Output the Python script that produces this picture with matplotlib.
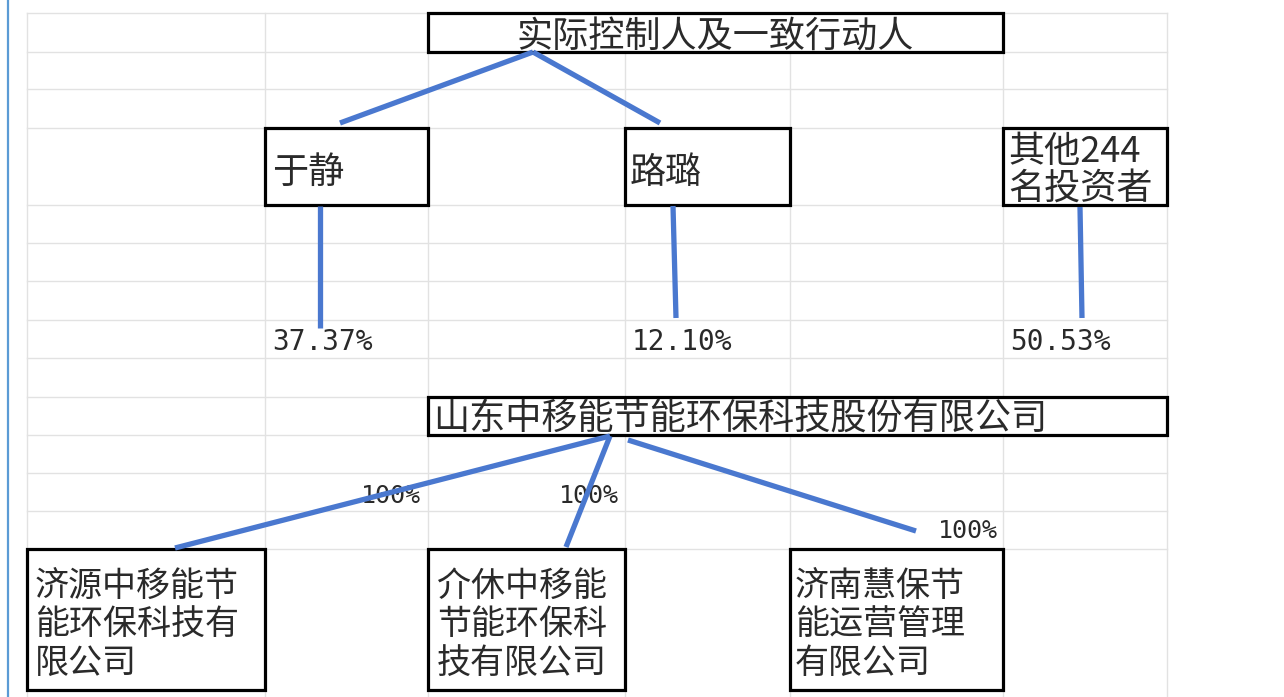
import matplotlib
matplotlib.use('Agg')
import matplotlib.pyplot as plt
from matplotlib.patches import Rectangle

# ---------------- data ----------------
top_label = "实际控制人及一致行动人"
holder_names = ["于静", "路璐", "其他244\n名投资者"]
holder_pcts = ["37.37%", "12.10%", "50.53%"]
company_label = "山东中移能节能环保科技股份有限公司"
sub_names = ["济源中移能节\n能环保科技有\n限公司",
             "介休中移能\n节能环保科\n技有限公司",
             "济南慧保节\n能运营管理\n有限公司"]
sub_pcts = ["100%", "100%", "100%"]

# ---------------- layout (pixel coordinates) ----------------
W, H = 1284, 697
col_x = [27, 265, 428, 625, 790, 1003, 1167]
row_y = [13, 52, 89, 128, 205, 243, 281, 320, 358, 397, 435, 473, 511, 549]

top_box = (428, 13, 1003, 52)
holder_boxes = [(265, 128, 428, 205), (625, 128, 790, 205), (1003, 128, 1167, 205)]
holder_text_x = [272, 630, 1008]
holder_pct_x = [272, 632, 1010]
company_box = (428, 397, 1167, 435)
sub_boxes = [(27, 549, 265, 690), (428, 549, 625, 690), (790, 549, 1003, 690)]
sub_text_x = [35, 437, 795]
sub_pct_pos = [(421, 496), (619, 496), (998, 531)]

connectors = [
    ((533, 52), (340, 123)),
    ((533, 52), (660, 123)),
    ((320, 206), (320, 328)),
    ((673, 206), (676, 318)),
    ((1080, 207), (1082, 318)),
    ((610, 436), (175, 548)),
    ((610, 436), (566, 547)),
    ((628, 440), (916, 531)),
]

BLUE = '#4a78cf'
GRID = '#e2e2e2'
TXT = '#2a2a2a'
CJK = ['Noto Sans CJK SC', 'DejaVu Sans']
plt.rcParams['font.family'] = CJK

fig = plt.figure(figsize=(W / 100, H / 100), dpi=100)
ax = fig.add_axes([0, 0, 1, 1])
ax.set_xlim(0, W)
ax.set_ylim(H, 0)
ax.axis('off')

# screenshot border line on the left
ax.plot([8, 8], [0, H], color='#5b9bd5', lw=1.6, zorder=1)

# spreadsheet grid
for y in row_y:
    ax.plot([col_x[0], col_x[-1]], [y, y], color=GRID, lw=1.0, zorder=1)
for x in col_x:
    ax.plot([x, x], [row_y[0], H], color=GRID, lw=1.0, zorder=1)


def box(b):
    x0, y0, x1, y1 = b
    ax.add_patch(Rectangle((x0, y0), x1 - x0, y1 - y0, facecolor='white',
                           edgecolor='black', lw=2.3, zorder=2))


# boxes
box(top_box)
for b in holder_boxes:
    box(b)
box(company_box)
for b in sub_boxes:
    box(b)

# texts
ax.text((top_box[0] + top_box[2]) / 2, 38, top_label, fontsize=26,
        ha='center', va='center', color=TXT, zorder=3)

for name, b, tx in zip(holder_names, holder_boxes, holder_text_x):
    lines = name.split('\n')
    if len(lines) == 1:
        ys = [173]
    else:
        ys = [152, 189]
    for ln, yy in zip(lines, ys):
        ax.text(tx, yy, ln, fontsize=26, ha='left', va='center',
                color=TXT, zorder=3)

for p, tx in zip(holder_pcts, holder_pct_x):
    ax.text(tx, 342, p, fontsize=20, family='DejaVu Sans Mono', ha='left',
            va='center', color=TXT, zorder=3)

ax.text(433, 419, company_label, fontsize=26, ha='left', va='center',
        color=TXT, zorder=3)

for name, tx in zip(sub_names, sub_text_x):
    for i, ln in enumerate(name.split('\n')):
        ax.text(tx, 586 + i * 38.5, ln, fontsize=24.5, ha='left', va='center',
                color=TXT, zorder=3)

for p, (px, py) in zip(sub_pcts, sub_pct_pos):
    ax.text(px, py, p, fontsize=18, family='DejaVu Sans Mono', ha='right',
            va='center', color=TXT, zorder=3)

# connector lines (drawn on top)
for (x0, y0), (x1, y1) in connectors:
    ax.plot([x0, x1], [y0, y1], color=BLUE, lw=3.8, solid_capstyle='butt',
            zorder=4)

fig.savefig('out.png', dpi=100)
